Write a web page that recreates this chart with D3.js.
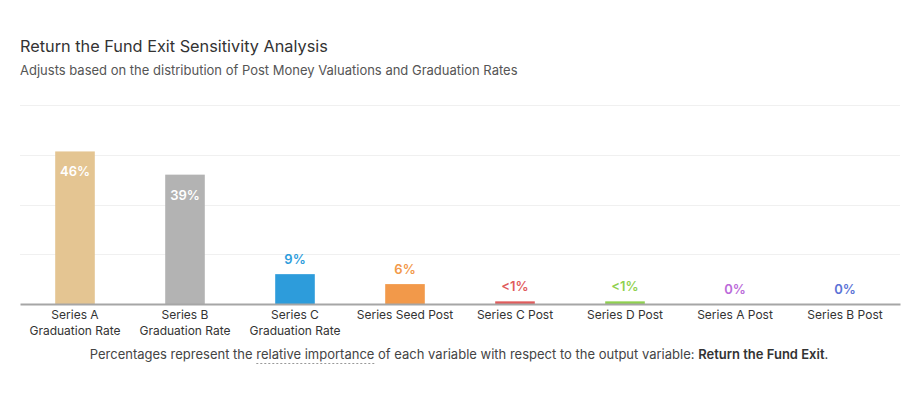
<!DOCTYPE html>
<html>
<head>
<meta charset="utf-8">
<script src="https://cdn.jsdelivr.net/npm/d3@7"></script>
<style>
  body { margin: 0; background: #fff; font-family: Inter, Roboto, sans-serif; }
</style>
</head>
<body>
<svg id="chart" width="913" height="399"></svg>
<script>
const categories = [
    ["Series A", "Graduation Rate"],
    ["Series B", "Graduation Rate"],
    ["Series C", "Graduation Rate"],
    ["Series Seed Post"],
    ["Series C Post"],
    ["Series D Post"],
    ["Series A Post"],
    ["Series B Post"]
];
const values = [46, 39, 9, 6, 0.8, 0.8, 0, 0];
const valueLabels = ["46%", "39%", "9%", "6%", "<1%", "<1%", "0%", "0%"];
const colors = ["#e4c592", "#b3b3b3", "#2d9cdb", "#f2994a", "#e05c5c", "#8fd14f", "#bb6bd9", "#5b73d6"];
const gridTicks = [0, 15, 30, 45, 60];

const svg = d3.select("#chart");

// Titulo
svg.append("text")
    .attr("x", 20).attr("y", 52)
    .attr("font-size", 16.3).attr("fill", "#333")
    .text("Return the Fund Exit Sensitivity Analysis");
svg.append("text")
    .attr("x", 20).attr("y", 75)
    .attr("font-size", 13).attr("fill", "#555")
    .text("Adjusts based on the distribution of Post Money Valuations and Graduation Rates");

const margin = {left: 20, right: 13, top: 105, bottom: 95};
const plotBottom = 399 - margin.bottom;

const x = d3.scaleBand()
    .domain(d3.range(categories.length))
    .range([margin.left, 913 - margin.right])
    .paddingInner(0.64)
    .paddingOuter(0.32);

const y = d3.scaleLinear()
    .domain([0, 60])
    .range([plotBottom, margin.top]);

// Grid
svg.append("g")
    .selectAll("line")
    .data(gridTicks.slice(1))
    .join("line")
    .attr("x1", margin.left).attr("x2", 913 - margin.right)
    .attr("y1", d => Math.round(y(d)) + 0.5)
    .attr("y2", d => Math.round(y(d)) + 0.5)
    .attr("stroke", "#f0f0f0");

// Barras
svg.append("g")
    .selectAll("rect")
    .data(values)
    .join("rect")
    .attr("x", (d, i) => x(i))
    .attr("y", d => y(d))
    .attr("width", x.bandwidth())
    .attr("height", d => plotBottom - y(d))
    .attr("fill", (d, i) => colors[i]);

// Etiquetas de valor
svg.append("g")
    .selectAll("text")
    .data(values)
    .join("text")
    .attr("x", (d, i) => x(i) + x.bandwidth() / 2)
    .attr("y", d => d > 20 ? y(d) + 25 : y(d) - 10)
    .attr("text-anchor", "middle")
    .attr("font-size", 13).attr("font-weight", 600)
    .attr("fill", (d, i) => d > 20 ? "#fff" : colors[i])
    .text((d, i) => valueLabels[i]);

// Eje X
const xAxis = svg.append("g")
    .attr("transform", `translate(0, ${plotBottom})`)
    .call(d3.axisBottom(x).tickSize(0).tickFormat(""));
xAxis.select(".domain").attr("stroke", "#a6a6a6").attr("stroke-width", 2);

const labels = svg.append("g")
    .selectAll("text")
    .data(categories)
    .join("text")
    .attr("x", (d, i) => x(i) + x.bandwidth() / 2)
    .attr("y", plotBottom + 15)
    .attr("text-anchor", "middle")
    .attr("font-size", 12).attr("fill", "#333");
labels.selectAll("tspan")
    .data(d => d)
    .join("tspan")
    .attr("x", function () { return this.parentNode.getAttribute("x"); })
    .attr("dy", (d, i) => i === 0 ? 0 : 16)
    .text(d => d);

// Nota
const note = svg.append("text")
    .attr("x", 459).attr("y", 359)
    .attr("text-anchor", "middle")
    .attr("font-size", 13).attr("fill", "#444");
note.append("tspan").text("Percentages represent the ");
note.append("tspan").attr("class", "dotted").text("relative importance");
note.append("tspan").text(" of each variable with respect to the output variable: ");
note.append("tspan").attr("font-weight", 600).attr("fill", "#333").text("Return the Fund Exit");
note.append("tspan").text(".");

// subrayado punteado
const dotted = note.select(".dotted").node();
const n = dotted.getNumberOfChars();
const x0 = dotted.getStartPositionOfChar(0).x;
const x1 = dotted.getEndPositionOfChar(n - 1).x;
svg.append("line")
    .attr("x1", x0).attr("x2", x1)
    .attr("y1", 363.5).attr("y2", 363.5)
    .attr("stroke", "#999").attr("stroke-dasharray", "2,2");
</script>
</body>
</html>
